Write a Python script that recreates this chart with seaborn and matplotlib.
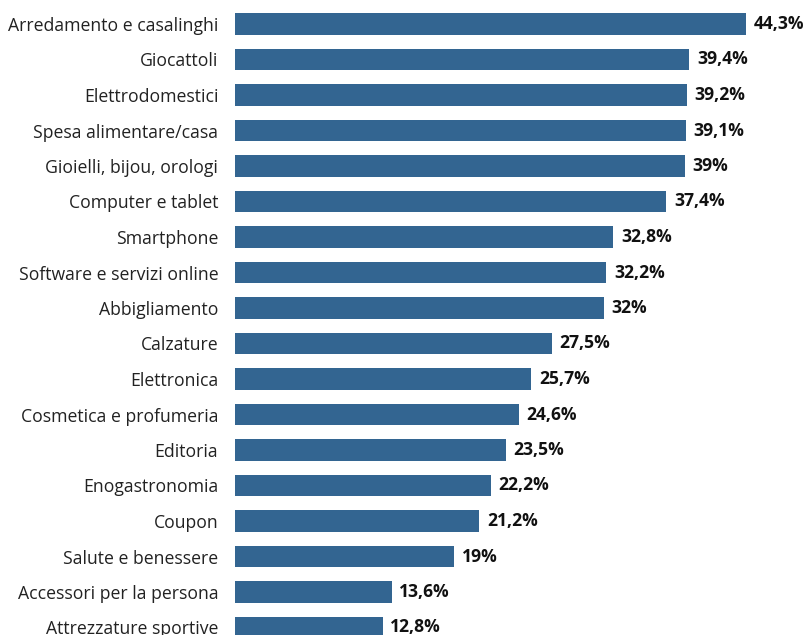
import matplotlib
matplotlib.use("Agg")
import matplotlib.pyplot as plt
import seaborn as sns
import pandas as pd

categories = [
    "Arredamento e casalinghi", "Giocattoli", "Elettrodomestici",
    "Spesa alimentare/casa", "Gioielli, bijou, orologi", "Computer e tablet",
    "Smartphone", "Software e servizi online", "Abbigliamento", "Calzature",
    "Elettronica", "Cosmetica e profumeria", "Editoria", "Enogastronomia",
    "Coupon", "Salute e benessere", "Accessori per la persona",
    "Attrezzature sportive",
]
values = [44.3, 39.4, 39.2, 39.1, 39.0, 37.4, 32.8, 32.2, 32.0, 27.5,
          25.7, 24.6, 23.5, 22.2, 21.2, 19.0, 13.6, 12.8]
value_labels = ["44,3%", "39,4%", "39,2%", "39,1%", "39%", "37,4%", "32,8%",
                "32,2%", "32%", "27,5%", "25,7%", "24,6%", "23,5%", "22,2%",
                "21,2%", "19%", "13,6%", "12,8%"]

df = pd.DataFrame({"cat": categories, "val": values})

sns.set_style("white")
plt.rcParams["font.family"] = ["Open Sans", "DejaVu Sans"]

fig = plt.figure(figsize=(8.07, 6.35), dpi=100)
ax = fig.add_axes([235 / 807, 0, 1 - 235 / 807, 1])

sns.barplot(data=df, y="cat", x="val", color="#336591", saturation=1,
            width=0.6, ax=ax, orient="h", linewidth=0, edgecolor="none")

px_per_unit = 11.53
ax.set_xlim(0, (807 - 235) / px_per_unit)
pitch = 35.5
top_center = 24
ax.set_ylim((635 - top_center) / pitch, -top_center / pitch)

for i, (v, lab) in enumerate(zip(values, value_labels)):
    ax.annotate(lab, (v, i), xytext=(5.5, 0), textcoords="offset points",
                ha="left", va="center", fontsize=12.6, fontweight="bold",
                color="#111111")

ax.set_xlabel("")
ax.set_ylabel("")
ax.set_xticks([])
ax.tick_params(axis="y", length=0, pad=12, labelsize=12.7, labelcolor="#222222")
for s in ax.spines.values():
    s.set_visible(False)

fig.savefig("out.png", dpi=100)
